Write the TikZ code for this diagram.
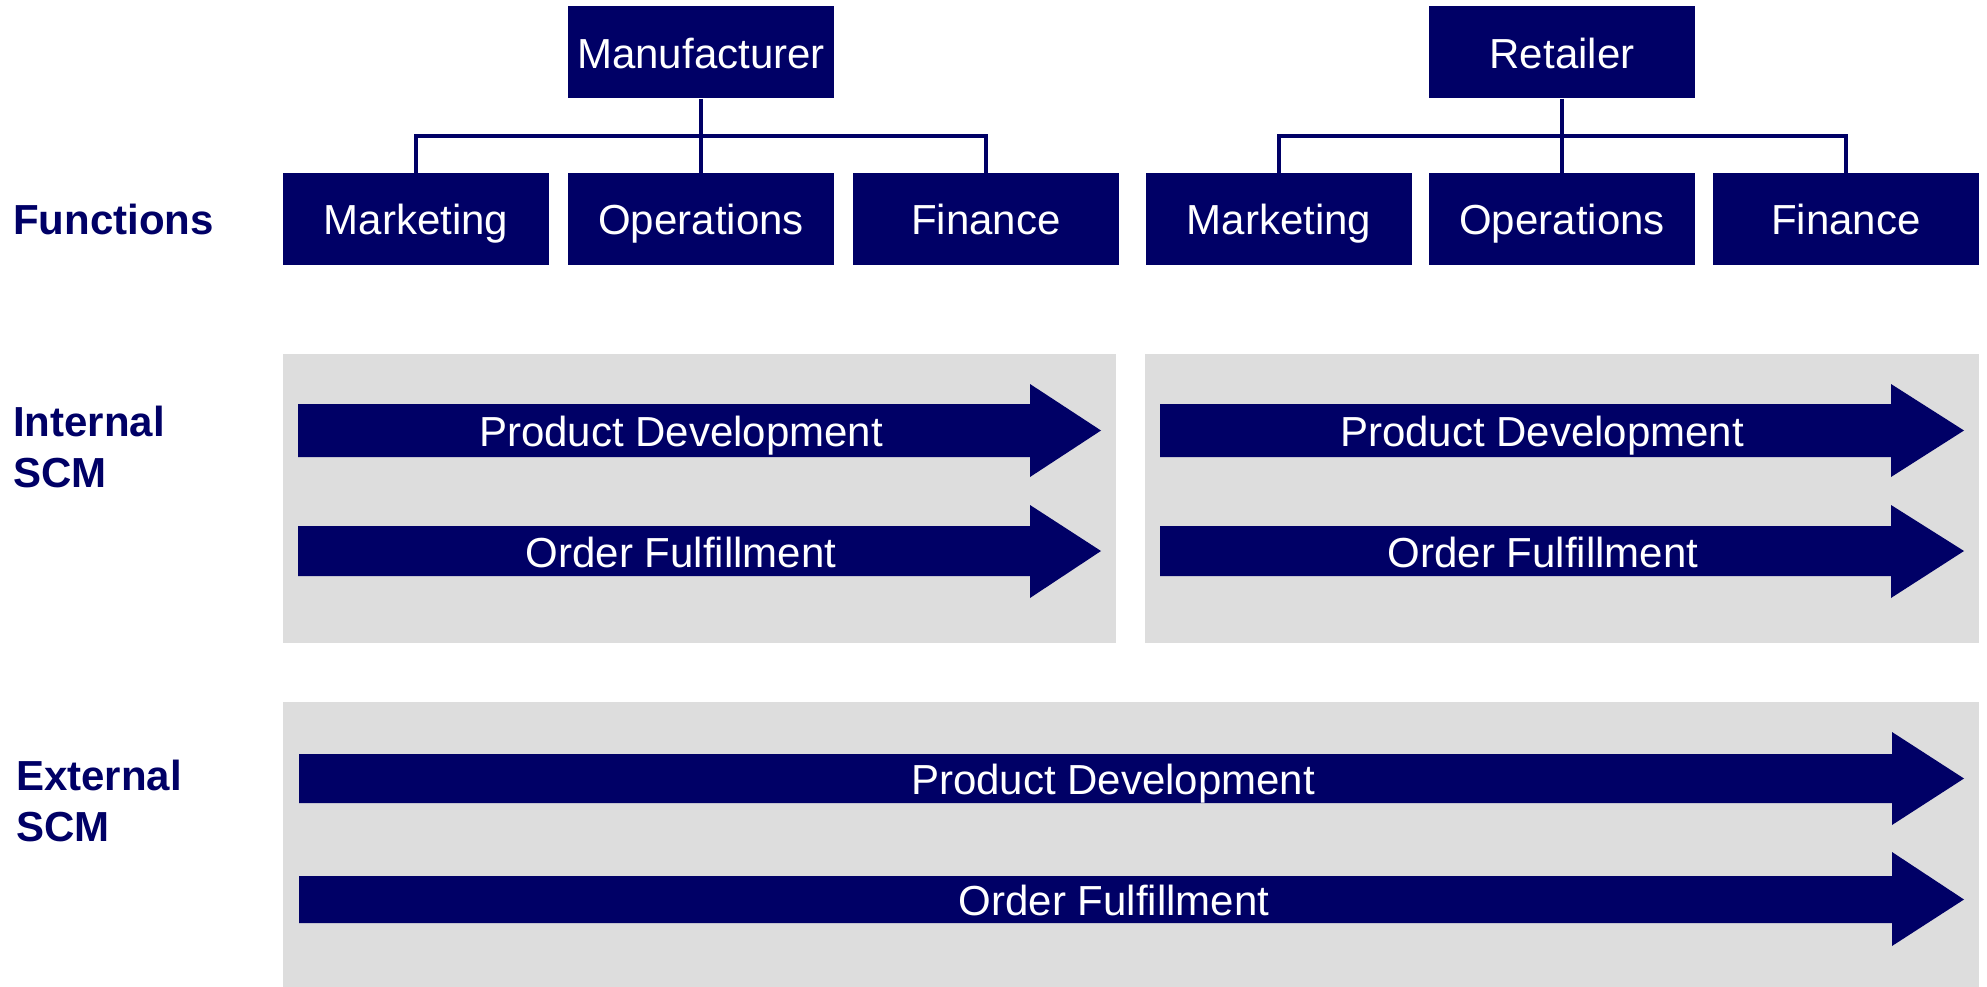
\documentclass[tikz,border=0pt]{standalone}
\usepackage{fontspec}
\setmainfont{Liberation Sans}
\definecolor{navy}{RGB}{0,0,102}
\definecolor{panel}{RGB}{221,221,221}
\tikzset{
  orgbox/.style={fill=navy, draw=none, minimum width=266pt, minimum height=92pt, inner sep=0pt,
    text=white, font=\fontsize{42}{50}\selectfont, text height=32pt, text depth=0pt},
  sidelabel/.style={text=navy, font=\fontsize{42}{50.5}\selectfont\bfseries, inner sep=0pt, align=left},
  arrowlabel/.style={text=white, font=\fontsize{42}{50}\selectfont, inner sep=0pt, text height=32pt, text depth=0pt},
  bigarrow/.style={fill=navy, draw=none},
  link/.style={draw=navy, line width=4pt},
  graypanel/.style={fill=panel, draw=none}
}
\begin{document}
\begin{tikzpicture}[x=1pt, y=-1pt]
\useasboundingbox (0,0) rectangle (1987,987);
% panels
\fill[graypanel] (283,354) rectangle (1116,643);
\fill[graypanel] (1145,354) rectangle (1979,643);
\fill[graypanel] (283,702) rectangle (1979,987);
% org boxes
\node[orgbox] (mfr) at (701,52.5) {Manufacturer};
\node[orgbox] (mkt1) at (416,219) {Marketing};
\node[orgbox] (ops1) at (701,219) {Operations};
\node[orgbox] (fin1) at (986,219) {Finance};
\node[orgbox] (ret) at (1562,52.5) {Retailer};
\node[orgbox] (mkt2) at (1279,219) {Marketing};
\node[orgbox] (ops2) at (1562,219) {Operations};
\node[orgbox] (fin2) at (1846,219) {Finance};
% connectors
\coordinate (mbus) at (701,136);
\coordinate (rbus) at (1562,136);
\draw[link] (mfr.south) -- (ops1.north);
\draw[link] (mkt1.north) |- (mbus) -| (fin1.north);
\draw[link] (ret.south) -- (ops2.north);
\draw[link] (mkt2.north) |- (rbus) -| (fin2.north);
% side labels
\node[sidelabel, anchor=base west] (lfun) at (13,235) {Functions};
\node[sidelabel, anchor=west] (lint) at (13,447) {Internal\\SCM};
\node[sidelabel, anchor=west] (lext) at (16,801) {External\\SCM};
% internal arrows
\fill[bigarrow] (298,404) -- (1030,404) -- (1030,384) -- (1101,430.5) -- (1030,477) -- (1030,457) -- (298,457) -- cycle;
\fill[bigarrow] (298,526) -- (1030,526) -- (1030,505) -- (1101,551) -- (1030,598) -- (1030,576) -- (298,576) -- cycle;
\fill[bigarrow] (1160,404) -- (1891,404) -- (1891,384) -- (1964,430.5) -- (1891,477) -- (1891,457) -- (1160,457) -- cycle;
\fill[bigarrow] (1160,526) -- (1891,526) -- (1891,505) -- (1964,551) -- (1891,598) -- (1891,576) -- (1160,576) -- cycle;
% external arrows
\fill[bigarrow] (299,754) -- (1892,754) -- (1892,732) -- (1964,778.5) -- (1892,825) -- (1892,803) -- (299,803) -- cycle;
\fill[bigarrow] (299,876) -- (1892,876) -- (1892,852) -- (1964,899.5) -- (1892,946) -- (1892,923) -- (299,923) -- cycle;
% arrow labels
\node[arrowlabel] (pd1) at (681,430.5) {Product Development};
\node[arrowlabel] (of1) at (681,551) {Order Fulfillment};
\node[arrowlabel] (pd2) at (1542,430.5) {Product Development};
\node[arrowlabel] (of2) at (1543,551) {Order Fulfillment};
\node[arrowlabel] (pd3) at (1113,778.5) {Product Development};
\node[arrowlabel] (of3) at (1114,899.5) {Order Fulfillment};
\end{tikzpicture}
\end{document}
